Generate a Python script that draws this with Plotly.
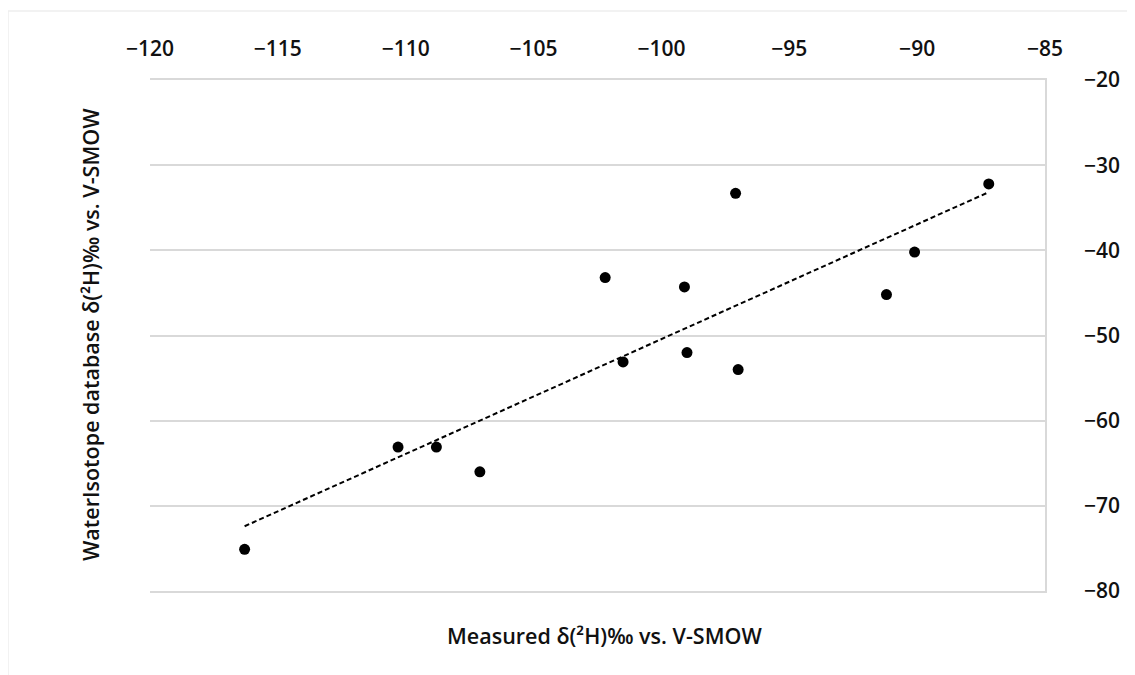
import numpy as np
import plotly.graph_objects as go

measured = [-116.3, -110.3, -108.8, -107.1, -102.2, -101.5, -99.1, -99.0, -97.1, -97.0, -91.2, -90.1, -87.2]
database = [-75.1, -63.1, -63.1, -66.0, -43.2, -53.1, -44.3, -52.0, -33.3, -54.0, -45.2, -40.2, -32.2]

x_ticks = [-120, -115, -110, -105, -100, -95, -90, -85]
y_ticks = [-20, -30, -40, -50, -60, -70, -80]

x_title = "Measured δ(²H)‰ vs. V-SMOW"
y_title = "WaterIsotope database δ(²H)‰ vs. V-SMOW"

# linear trendline (least squares), drawn between min and max of measured values
slope, intercept = np.polyfit(measured, database, 1)
tx = [min(measured), max(measured)]
ty = [slope * v + intercept for v in tx]

FONT = "'Open Sans', Lato, sans-serif"
TXT = "#111111"
GRID = "#d9d9d9"

fig = go.Figure()
fig.add_trace(go.Scatter(x=tx, y=ty, mode="lines",
                         line=dict(color="black", width=2, dash="5px,3px"),
                         showlegend=False, hoverinfo="skip"))
fig.add_trace(go.Scatter(x=measured, y=database, mode="markers",
                         marker=dict(color="black", size=11),
                         showlegend=False))

# page is offset by the 8px body margin
OFF = 8
W, H = 1135 - OFF, 675 - OFF
L, R, T, B = 150 - OFF, 90, 80 - OFF, 84
pw, ph = W - L - R, H - T - B

def px2paper(px, py):
    # px, py are page coordinates in the reference image
    return (px - OFF - L) / pw, (H - B - (py - OFF)) / ph

x0, y0 = px2paper(OFF, 11)
x1, _ = px2paper(1135, 11)
_, y1 = px2paper(OFF, 675)
fig.add_shape(type="line", xref="paper", yref="paper", x0=x0, y0=y0, x1=x1, y1=y0,
              line=dict(color="#eeeeee", width=1.5))
fig.add_shape(type="line", xref="paper", yref="paper", x0=x0, y0=y0, x1=x0, y1=y1,
              line=dict(color="#eeeeee", width=1.5))

ax, ay = px2paper(604, 635)
fig.add_annotation(text=x_title, xref="paper", yref="paper", x=ax, y=ay, showarrow=False,
                   xanchor="center", yanchor="middle",
                   font=dict(family=FONT, size=21.5, color=TXT, weight=600))
bx, by = px2paper(90, 335)
fig.add_annotation(text=y_title, xref="paper", yref="paper", x=bx, y=by, showarrow=False,
                   xanchor="center", yanchor="middle", textangle=-90,
                   font=dict(family=FONT, size=21.5, color=TXT, weight=600))

fig.update_layout(
    width=W, height=H,
    margin=dict(l=L, r=R, t=T, b=B),
    paper_bgcolor="white", plot_bgcolor="white",
    font=dict(family=FONT, size=21, color=TXT, weight=600),
    xaxis=dict(range=[-120, -85], side="top", tickvals=x_ticks,
               showgrid=False, zeroline=False,
               showline=True, mirror=True, linecolor=GRID, linewidth=1.5,
               ticks="", ticklabelstandoff=14),
    yaxis=dict(range=[-80, -20], side="right", tickvals=y_ticks,
               showgrid=True, gridcolor=GRID, gridwidth=1.5,
               zeroline=False, showline=True, linecolor=GRID, linewidth=1.5,
               ticks="", ticklabelstandoff=33),
)

fig.write_html("out.html")
